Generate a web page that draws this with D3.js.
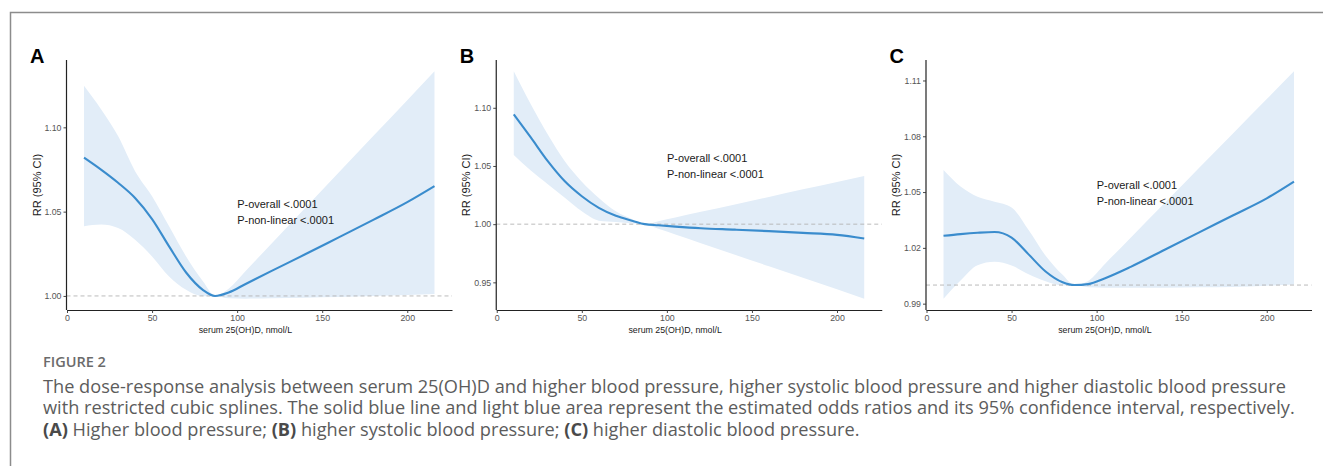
<!DOCTYPE html>
<html><head><meta charset="utf-8">
<script src="https://cdn.jsdelivr.net/npm/d3@7"></script>
<style>body{margin:0;background:#fff}svg{display:block;background:#fff}</style>
</head><body><svg id="chart" width="1323" height="466"></svg>
<script>
// ---------------- data ----------------
const xValues = [10, 20, 30, 40, 50, 60, 70, 80, 87, 95, 105, 120, 140, 160, 180, 200, 216];

const estA   = [1.0820,1.0749,1.0671,1.0581,1.0456,1.0294,1.0139,1.0035,1.0000,1.0020,1.0071,1.0147,1.0247,1.0349,1.0451,1.0556,1.0651];
const upperA = [1.1246,1.1107,1.0948,1.0740,1.0591,1.0413,1.0234,1.0085,1.0000,1.0042,1.0148,1.0308,1.0521,1.0735,1.0948,1.1161,1.1332];
const lowerA = [1.0413,1.0423,1.0403,1.0333,1.0234,1.0115,1.0036,0.9998,1.0000,0.9986,0.9984,0.9986,0.9990,0.9994,1.0000,1.0006,1.0012];

const estB   = [1.0944,1.0745,1.0541,1.0368,1.0240,1.0140,1.0072,1.0028,1.0000,0.9990,0.9979,0.9965,0.9953,0.9940,0.9925,0.9908,0.9877];
const upperB = [1.1313,1.1030,1.0770,1.0540,1.0365,1.0225,1.0110,1.0040,1.0000,1.0026,1.0058,1.0106,1.0170,1.0234,1.0299,1.0363,1.0414];
const lowerB = [1.0595,1.0461,1.0344,1.0226,1.0110,1.0030,1.0018,1.0005,1.0000,0.9960,0.9911,0.9837,0.9737,0.9638,0.9539,0.9440,0.9360];

const estC   = [1.0265,1.0274,1.0281,1.0285,1.0255,1.0165,1.0073,1.0015,1.0000,1.0005,1.0037,1.0098,1.0190,1.0282,1.0374,1.0466,1.0556];
const upperC = [1.0619,1.0530,1.0475,1.0448,1.0417,1.0296,1.0158,1.0055,1.0000,1.0022,1.0115,1.0255,1.0441,1.0628,1.0814,1.1000,1.1149];
const lowerC = [0.9927,1.0024,1.0107,1.0125,1.0105,1.0058,1.0020,0.9997,1.0000,0.9988,0.9986,0.9986,0.9986,0.9988,0.9990,0.9996,1.0003];

const panelLetters = ["A", "B", "C"];
const xTicks  = [0, 50, 100, 150, 200];
const yTicksA = [1.00, 1.05, 1.10];
const yTicksB = [0.95, 1.00, 1.05, 1.10];
const yTicksC = [0.99, 1.02, 1.05, 1.08, 1.11];

const annotX = 100;
const annotY = [1.0546, 1.0566, 1.0538];
const annotLines = ["P-overall <.0001", "P-non-linear <.0001"];
const refValue = 1.0;

const xTitle = "serum 25(OH)D, nmol/L";
const yTitle = "RR (95% CI)";
const captionHead = "FIGURE 2";
const captionLine1 = "The dose-response analysis between serum 25(OH)D and higher blood pressure, higher systolic blood pressure and higher diastolic blood pressure";
const captionLine2 = "with restricted cubic splines. The solid blue line and light blue area represent the estimated odds ratios and its 95% confidence interval, respectively.";
const captionLine3 = [["(A)", true], [" Higher blood pressure; ", false], ["(B)", true], [" higher systolic blood pressure; ", false], ["(C)", true], [" higher diastolic blood pressure.", false]];

// ---------------- drawing ----------------
const svg = d3.select("#chart");
const sans = "'Liberation Sans', Arial, Helvetica, sans-serif";

// outer frame
svg.append("path").attr("d", "M10.5,466 V12.5 H1323")
  .attr("fill", "none").attr("stroke", "#8c8c8c").attr("stroke-width", 1.5);

const panels = [
  {est: estA, up: upperA, lo: lowerA, ticks: yTicksA},
  {est: estB, up: upperB, lo: lowerB, ticks: yTicksB},
  {est: estC, up: upperC, lo: lowerC, ticks: yTicksC}
];

const plotTop = 60, plotBottom = 310, plotW = 385.5;
function expand(ext) { const r = ext[1] - ext[0]; return [ext[0] - 0.05 * r, ext[1] + 0.05 * r]; }

panels.forEach((p, i) => {
  const left = 66.5 + i * 429.75;
  const xs = d3.scaleLinear().domain(expand(d3.extent(xValues))).range([left, left + plotW]);
  const ys = d3.scaleLinear().domain(expand([d3.min(p.lo), d3.max(p.up)])).range([plotBottom, plotTop]);
  const g = svg.append("g");
  const pts = xValues.map((x, j) => ({x, y: p.est[j], lo: p.lo[j], hi: p.up[j]}));

  g.append("path").datum(pts)
    .attr("d", d3.area().x(d => xs(d.x)).y0(d => ys(d.lo)).y1(d => ys(d.hi)).curve(d3.curveMonotoneX))
    .attr("fill", "#e2edf8");

  g.append("line")
    .attr("x1", left).attr("x2", left + plotW)
    .attr("y1", ys(refValue)).attr("y2", ys(refValue))
    .attr("stroke", "#b3b3b3").attr("stroke-width", 0.9).attr("stroke-dasharray", "4,3");

  g.append("path").datum(pts)
    .attr("d", d3.line().x(d => xs(d.x)).y(d => ys(d.y)).curve(d3.curveMonotoneX))
    .attr("fill", "none").attr("stroke", "#3a8ccd").attr("stroke-width", 2.1);

  const xAxis = d3.axisBottom(xs).tickValues(xTicks).tickSize(3).tickSizeOuter(0).tickPadding(2.2).tickFormat(d3.format("d"));
  const gx = g.append("g").attr("transform", `translate(0,${plotBottom})`).call(xAxis);
  const yAxis = d3.axisLeft(ys).tickValues(p.ticks).tickSize(3).tickSizeOuter(0).tickPadding(2).tickFormat(d3.format(".2f"));
  const gy = g.append("g").attr("transform", `translate(${left},0)`).call(yAxis);
  gy.select(".domain").attr("d", `M0,${plotBottom}V${plotTop}`);
  [gx, gy].forEach(ax => {
    ax.select(".domain").attr("stroke", "#222").attr("stroke-width", 1.2);
    ax.selectAll(".tick line").attr("stroke", "#333").attr("stroke-width", 0.9);
    ax.selectAll(".tick text").attr("fill", "#555").attr("font-size", 8.8).attr("font-family", sans);
  });

  // titles
  g.append("text").attr("x", left + 0.464 * plotW).attr("y", 333)
    .attr("text-anchor", "middle").attr("font-family", sans).attr("font-size", 8.8).attr("fill", "#1a1a1a")
    .text(xTitle);
  g.append("text").attr("transform", `translate(${left - 30},${(plotTop + plotBottom) / 2}) rotate(-90)`)
    .attr("text-anchor", "middle").attr("dominant-baseline", "central")
    .attr("font-family", sans).attr("font-size", 11).attr("fill", "#1a1a1a")
    .text(yTitle);
  g.append("text").attr("x", left - 36.5).attr("y", 63)
    .attr("font-family", sans).attr("font-weight", "bold").attr("font-size", 20).attr("fill", "#000")
    .text(panelLetters[i]);

  annotLines.forEach((t, k) => {
    g.append("text").attr("x", xs(annotX)).attr("y", ys(annotY[i]) + k * 16)
      .attr("dominant-baseline", "central")
      .attr("font-family", sans).attr("font-size", 11).attr("fill", "#1a1a1a")
      .text(t);
  });
});

// caption
const capFont = "'Open Sans', Lato, sans-serif";
const head = svg.append("text").attr("x", 43).attr("y", 366.7)
  .attr("font-family", capFont).attr("font-weight", 600).attr("font-size", 12).attr("fill", "#6b6b6b")
  .text(captionHead);
const hw = head.node().getComputedTextLength();
head.attr("font-size", 12 * 63 / hw);

const l1 = svg.append("text").attr("x", 43).attr("y", 392.7)
  .attr("font-family", capFont).attr("font-size", 17).attr("fill", "#5c5c5c").text(captionLine1);
const w1 = l1.node().getComputedTextLength();
const capSize = 17 * 1244 / w1;
l1.attr("font-size", capSize);
svg.append("text").attr("x", 43).attr("y", 414.2)
  .attr("font-family", capFont).attr("font-size", capSize).attr("fill", "#5c5c5c").text(captionLine2);
const l3 = svg.append("text").attr("x", 43).attr("y", 435.6)
  .attr("font-family", capFont).attr("font-size", capSize).attr("fill", "#5c5c5c");
captionLine3.forEach(([t, b]) => {
  l3.append("tspan").attr("font-weight", b ? 700 : 400).attr("fill", b ? "#4a4a4a" : "#5c5c5c").text(t);
});
</script>
</body></html>
